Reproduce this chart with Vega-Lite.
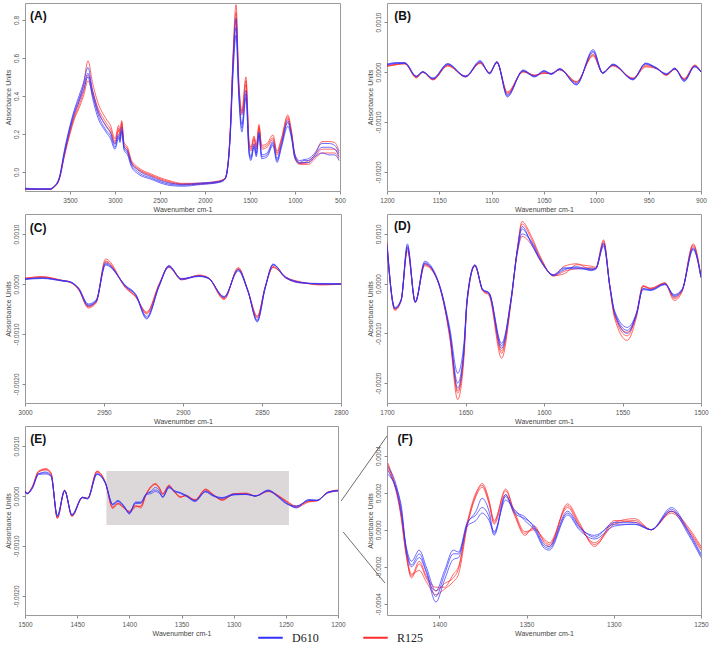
{
"$schema": "https://vega.github.io/schema/vega-lite/v6.json",
"padding": {"left": 3, "top": 2, "right": 5, "bottom": 2},
"bounds": "flush",
"columns": 2,
"spacing": {"row": 23, "column": 46},
"config": {
 "view": {"stroke": "#9a9a9a", "strokeWidth": 1},
 "axis": {"domain": false, "grid": false, "tickColor": "#8a8a8a", "tickSize": 3, "labelFont": "Liberation Sans", "labelFontSize": 6.5, "labelColor": "#555555", "titleFont": "Liberation Sans", "titleFontSize": 7, "titleFontWeight": "normal", "titleColor": "#444444", "labelPadding": 3, "titlePadding": 2, "labelOverlap": false, "labelFlush": false},
 "axisY": {"labelAngle": -90, "labelAlign": "center", "labelBaseline": "bottom"},
 "legend": {"orient": "none", "legendX": 232, "legendY": 621, "direction": "horizontal", "symbolType": "stroke", "symbolSize": 600, "symbolStrokeWidth": 2, "symbolOpacity": 1, "labelFont": "Liberation Serif", "labelFontSize": 12, "labelColor": "#222222", "columnPadding": 40, "labelOffset": 8}
},
"datasets": {
 "A": [
  {"x":4000,"b1":-0.085,"b2":-0.088,"b3":-0.09,"r1":-0.09,"r2":-0.092,"r3":-0.09},
  {"x":3850,"b1":-0.088,"b2":-0.09,"b3":-0.091,"r1":-0.09,"r2":-0.092,"r3":-0.091},
  {"x":3720,"b1":-0.088,"b2":-0.09,"b3":-0.09,"r1":-0.09,"r2":-0.092,"r3":-0.09},
  {"x":3680,"b1":-0.075,"b2":-0.078,"b3":-0.08,"r1":-0.08,"r2":-0.082,"r3":-0.08},
  {"x":3620,"b1":-0.03,"b2":-0.033,"b3":-0.036,"r1":-0.037,"r2":-0.04,"r3":-0.038},
  {"x":3560,"b1":0.12,"b2":0.11,"b3":0.1,"r1":0.1,"r2":0.09,"r3":0.09},
  {"x":3500,"b1":0.245,"b2":0.235,"b3":0.225,"r1":0.22,"r2":0.21,"r3":0.2},
  {"x":3450,"b1":0.33,"b2":0.32,"b3":0.31,"r1":0.3,"r2":0.29,"r3":0.28},
  {"x":3400,"b1":0.4,"b2":0.385,"b3":0.37,"r1":0.37,"r2":0.35,"r3":0.335},
  {"x":3350,"b1":0.47,"b2":0.45,"b3":0.43,"r1":0.46,"r2":0.42,"r3":0.4},
  {"x":3300,"b1":0.55,"b2":0.52,"b3":0.5,"r1":0.585,"r2":0.51,"r3":0.48},
  {"x":3250,"b1":0.43,"b2":0.41,"b3":0.39,"r1":0.47,"r2":0.43,"r3":0.41},
  {"x":3200,"b1":0.34,"b2":0.32,"b3":0.3,"r1":0.38,"r2":0.35,"r3":0.33},
  {"x":3100,"b1":0.24,"b2":0.22,"b3":0.21,"r1":0.28,"r2":0.26,"r3":0.245},
  {"x":3050,"b1":0.205,"b2":0.19,"b3":0.175,"r1":0.245,"r2":0.225,"r3":0.21},
  {"x":3000,"b1":0.145,"b2":0.13,"b3":0.12,"r1":0.175,"r2":0.16,"r3":0.15},
  {"x":2960,"b1":0.2,"b2":0.19,"b3":0.18,"r1":0.245,"r2":0.23,"r3":0.22},
  {"x":2945,"b1":0.175,"b2":0.165,"b3":0.155,"r1":0.215,"r2":0.2,"r3":0.19},
  {"x":2925,"b1":0.235,"b2":0.22,"b3":0.21,"r1":0.27,"r2":0.26,"r3":0.25},
  {"x":2900,"b1":0.135,"b2":0.125,"b3":0.115,"r1":0.155,"r2":0.145,"r3":0.135},
  {"x":2860,"b1":0.11,"b2":0.1,"b3":0.09,"r1":0.13,"r2":0.12,"r3":0.11},
  {"x":2820,"b1":0.05,"b2":0.04,"b3":0.03,"r1":0.065,"r2":0.055,"r3":0.05},
  {"x":2750,"b1":0.012,"b2":0.002,"b3":-0.008,"r1":0.027,"r2":0.02,"r3":0.015},
  {"x":2600,"b1":-0.025,"b2":-0.032,"b3":-0.038,"r1":-0.01,"r2":-0.016,"r3":-0.02},
  {"x":2400,"b1":-0.058,"b2":-0.064,"b3":-0.07,"r1":-0.045,"r2":-0.05,"r3":-0.055},
  {"x":2250,"b1":-0.065,"b2":-0.07,"b3":-0.075,"r1":-0.06,"r2":-0.063,"r3":-0.066},
  {"x":2050,"b1":-0.058,"b2":-0.062,"b3":-0.066,"r1":-0.058,"r2":-0.061,"r3":-0.064},
  {"x":1850,"b1":-0.05,"b2":-0.053,"b3":-0.056,"r1":-0.047,"r2":-0.05,"r3":-0.053},
  {"x":1780,"b1":-0.035,"b2":-0.038,"b3":-0.04,"r1":-0.033,"r2":-0.036,"r3":-0.038},
  {"x":1745,"b1":0.04,"b2":0.035,"b3":0.03,"r1":0.045,"r2":0.04,"r3":0.035},
  {"x":1720,"b1":0.2,"b2":0.19,"b3":0.18,"r1":0.22,"r2":0.21,"r3":0.2},
  {"x":1690,"b1":0.56,"b2":0.53,"b3":0.5,"r1":0.6,"r2":0.58,"r3":0.56},
  {"x":1655,"b1":0.81,"b2":0.76,"b3":0.72,"r1":0.88,"r2":0.84,"r3":0.8},
  {"x":1625,"b1":0.44,"b2":0.42,"b3":0.4,"r1":0.49,"r2":0.47,"r3":0.45},
  {"x":1590,"b1":0.25,"b2":0.23,"b3":0.21,"r1":0.32,"r2":0.31,"r3":0.3},
  {"x":1545,"b1":0.43,"b2":0.41,"b3":0.39,"r1":0.5,"r2":0.48,"r3":0.46},
  {"x":1510,"b1":0.12,"b2":0.1,"b3":0.09,"r1":0.16,"r2":0.15,"r3":0.14},
  {"x":1490,"b1":0.08,"b2":0.07,"b3":0.06,"r1":0.13,"r2":0.12,"r3":0.11},
  {"x":1455,"b1":0.15,"b2":0.14,"b3":0.13,"r1":0.19,"r2":0.18,"r3":0.17},
  {"x":1430,"b1":0.1,"b2":0.09,"b3":0.08,"r1":0.14,"r2":0.13,"r3":0.12},
  {"x":1400,"b1":0.21,"b2":0.2,"b3":0.19,"r1":0.25,"r2":0.24,"r3":0.23},
  {"x":1370,"b1":0.09,"b2":0.08,"b3":0.07,"r1":0.14,"r2":0.13,"r3":0.12},
  {"x":1310,"b1":0.1,"b2":0.09,"b3":0.08,"r1":0.15,"r2":0.14,"r3":0.13},
  {"x":1245,"b1":0.16,"b2":0.15,"b3":0.14,"r1":0.195,"r2":0.18,"r3":0.17},
  {"x":1200,"b1":0.07,"b2":0.06,"b3":0.05,"r1":0.11,"r2":0.1,"r3":0.09},
  {"x":1150,"b1":0.15,"b2":0.14,"b3":0.13,"r1":0.18,"r2":0.17,"r3":0.16},
  {"x":1080,"b1":0.27,"b2":0.26,"b3":0.24,"r1":0.3,"r2":0.29,"r3":0.28},
  {"x":1040,"b1":0.2,"b2":0.19,"b3":0.18,"r1":0.22,"r2":0.21,"r3":0.2},
  {"x":1000,"b1":0.09,"b2":0.08,"b3":0.07,"r1":0.09,"r2":0.08,"r3":0.07},
  {"x":950,"b1":0.06,"b2":0.05,"b3":0.045,"r1":0.05,"r2":0.045,"r3":0.04},
  {"x":900,"b1":0.065,"b2":0.06,"b3":0.05,"r1":0.05,"r2":0.045,"r3":0.04},
  {"x":850,"b1":0.07,"b2":0.06,"b3":0.05,"r1":0.06,"r2":0.05,"r3":0.04},
  {"x":780,"b1":0.1,"b2":0.09,"b3":0.08,"r1":0.09,"r2":0.08,"r3":0.07},
  {"x":700,"b1":0.15,"b2":0.13,"b3":0.1,"r1":0.16,"r2":0.12,"r3":0.1},
  {"x":620,"b1":0.15,"b2":0.13,"b3":0.09,"r1":0.16,"r2":0.12,"r3":0.1},
  {"x":560,"b1":0.14,"b2":0.12,"b3":0.09,"r1":0.155,"r2":0.12,"r3":0.1},
  {"x":510,"b1":0.1,"b2":0.08,"b3":0.06,"r1":0.11,"r2":0.09,"r3":0.07}
 ],
 "B": [
  {"x":1200,"b1":0.00016,"b2":0.00015,"b3":0.00014,"r1":0.00013,"r2":0.00012,"r3":0.00011},
  {"x":1190,"b1":0.00019,"b2":0.00018,"b3":0.00017,"r1":0.00016,"r2":0.00015,"r3":0.00015},
  {"x":1183,"b1":0.00019,"b2":0.00018,"b3":0.00017,"r1":0.00018,"r2":0.00017,"r3":0.00016},
  {"x":1172,"b1":-0.00008,"b2":-0.00009,"b3":-0.00009,"r1":-0.00011,"r2":-0.00012,"r3":-0.0001},
  {"x":1166,"b1":0.00001,"b2":0,"b3":0,"r1":0,"r2":-0.00001,"r3":0},
  {"x":1156,"b1":-0.00012,"b2":-0.00013,"b3":-0.00014,"r1":-0.00016,"r2":-0.00015,"r3":-0.00014},
  {"x":1142,"b1":0.00017,"b2":0.00016,"b3":0.00015,"r1":0.00014,"r2":0.00013,"r3":0.00012},
  {"x":1125,"b1":-0.00009,"b2":-0.0001,"b3":-0.00008,"r1":-0.0001,"r2":-0.00009,"r3":-0.00008},
  {"x":1111,"b1":0.00023,"b2":0.00021,"b3":0.0002,"r1":0.00019,"r2":0.00018,"r3":0.00017},
  {"x":1102,"b1":-0.00004,"b2":-0.00003,"b3":-0.00002,"r1":-0.00001,"r2":-0.00002,"r3":-0.00001},
  {"x":1095,"b1":0.00021,"b2":0.0002,"b3":0.00019,"r1":0.0002,"r2":0.00019,"r3":0.00018},
  {"x":1085,"b1":-0.0005,"b2":-0.00048,"b3":-0.00046,"r1":-0.00042,"r2":-0.0004,"r3":-0.00044},
  {"x":1070,"b1":0.00004,"b2":0.00003,"b3":0.00002,"r1":0.00002,"r2":0.00001,"r3":0},
  {"x":1059,"b1":-0.00009,"b2":-0.00008,"b3":-0.0001,"r1":-0.00006,"r2":-0.00007,"r3":-0.00008},
  {"x":1050,"b1":0.00003,"b2":0.00002,"b3":0.00001,"r1":-0.00003,"r2":-0.00002,"r3":-0.00001},
  {"x":1043,"b1":-0.00004,"b2":-0.00003,"b3":-0.00005,"r1":-0.00003,"r2":-0.00004,"r3":-0.00003},
  {"x":1035,"b1":0.00007,"b2":0.00006,"b3":0.00005,"r1":0.00005,"r2":0.00006,"r3":0.00004},
  {"x":1019,"b1":-0.00026,"b2":-0.00025,"b3":-0.00023,"r1":-0.0002,"r2":-0.00019,"r3":-0.00021},
  {"x":1003,"b1":0.00045,"b2":0.00042,"b3":0.0004,"r1":0.00034,"r2":0.00032,"r3":0.00036},
  {"x":994,"b1":-0.00002,"b2":-0.00001,"b3":-0.00003,"r1":-0.00002,"r2":-0.00001,"r3":-0.00002},
  {"x":984,"b1":0.00016,"b2":0.00015,"b3":0.00014,"r1":0.00013,"r2":0.00012,"r3":0.00014},
  {"x":965,"b1":-0.00016,"b2":-0.00015,"b3":-0.00014,"r1":-0.00013,"r2":-0.00014,"r3":-0.00012},
  {"x":953,"b1":0.00018,"b2":0.00017,"b3":0.00016,"r1":0.00012,"r2":0.0001,"r3":0.00014},
  {"x":943,"b1":0.00009,"b2":0.00008,"b3":0.00007,"r1":0.00008,"r2":0.00007,"r3":0.00009},
  {"x":933,"b1":-0.00004,"b2":-0.00005,"b3":-0.00003,"r1":-0.00007,"r2":-0.00006,"r3":-0.00005},
  {"x":925,"b1":0.00008,"b2":0.00007,"b3":0.00006,"r1":0.00006,"r2":0.00005,"r3":0.00007},
  {"x":916,"b1":-0.00019,"b2":-0.00018,"b3":-0.00016,"r1":-0.00014,"r2":-0.00015,"r3":-0.00013},
  {"x":906,"b1":0.00012,"b2":0.00011,"b3":0.0001,"r1":0.00014,"r2":0.00013,"r3":0.00012},
  {"x":900,"b1":0,"b2":0,"b3":0,"r1":0,"r2":0,"r3":0}
 ],
 "C": [
  {"x":3000,"b1":0.0001,"b2":0.0001,"b3":0.00009,"r1":0.00011,"r2":0.00012,"r3":0.0001},
  {"x":2989,"b1":0.00012,"b2":0.00012,"b3":0.00011,"r1":0.00015,"r2":0.00014,"r3":0.00013},
  {"x":2976,"b1":0.00007,"b2":0.00006,"b3":0.00006,"r1":0.00007,"r2":0.00006,"r3":0.00007},
  {"x":2972,"b1":0.00005,"b2":0.00004,"b3":0.00005,"r1":0.00005,"r2":0.00004,"r3":0.00004},
  {"x":2966,"b1":-0.00008,"b2":-0.00009,"b3":-0.0001,"r1":-0.00012,"r2":-0.00011,"r3":-0.0001},
  {"x":2960,"b1":-0.0004,"b2":-0.00042,"b3":-0.00044,"r1":-0.00046,"r2":-0.00044,"r3":-0.00048},
  {"x":2955,"b1":-0.00032,"b2":-0.00034,"b3":-0.00035,"r1":-0.00036,"r2":-0.00035,"r3":-0.00038},
  {"x":2949,"b1":0.0004,"b2":0.00042,"b3":0.00038,"r1":0.0005,"r2":0.00046,"r3":0.00044},
  {"x":2936,"b1":-0.00005,"b2":-0.00006,"b3":-0.00004,"r1":-0.00008,"r2":-0.00009,"r3":-0.00007},
  {"x":2930,"b1":-0.00021,"b2":-0.00022,"b3":-0.0002,"r1":-0.00025,"r2":-0.00026,"r3":-0.00024},
  {"x":2923,"b1":-0.00065,"b2":-0.0007,"b3":-0.00068,"r1":-0.00056,"r2":-0.00058,"r3":-0.0006},
  {"x":2915,"b1":-0.00003,"b2":-0.00002,"b3":-0.00004,"r1":0.00001,"r2":0,"r3":-0.00001},
  {"x":2909,"b1":0.00037,"b2":0.00036,"b3":0.00034,"r1":0.00035,"r2":0.00033,"r3":0.00036},
  {"x":2901,"b1":0.0001,"b2":0.00009,"b3":0.00011,"r1":0.00008,"r2":0.00009,"r3":0.0001},
  {"x":2890,"b1":0.00016,"b2":0.00015,"b3":0.00016,"r1":0.00018,"r2":0.00017,"r3":0.00016},
  {"x":2884,"b1":0.00012,"b2":0.00011,"b3":0.00012,"r1":0.00013,"r2":0.00012,"r3":0.00012},
  {"x":2874,"b1":-0.00026,"b2":-0.00025,"b3":-0.00027,"r1":-0.0003,"r2":-0.00031,"r3":-0.00028},
  {"x":2865,"b1":0.00028,"b2":0.00026,"b3":0.00029,"r1":0.00033,"r2":0.00031,"r3":0.0003},
  {"x":2859,"b1":-0.00013,"b2":-0.00014,"b3":-0.00012,"r1":-0.00012,"r2":-0.00013,"r3":-0.00014},
  {"x":2853,"b1":-0.00074,"b2":-0.00072,"b3":-0.00076,"r1":-0.00064,"r2":-0.00066,"r3":-0.00068},
  {"x":2848,"b1":-0.00008,"b2":-0.00007,"b3":-0.00009,"r1":-0.00006,"r2":-0.00007,"r3":-0.00005},
  {"x":2843,"b1":0.0004,"b2":0.00039,"b3":0.00038,"r1":0.00034,"r2":0.00033,"r3":0.00035},
  {"x":2835,"b1":0.00013,"b2":0.00012,"b3":0.00014,"r1":0.00013,"r2":0.00014,"r3":0.00012},
  {"x":2825,"b1":0.00003,"b2":0.00002,"b3":0.00003,"r1":0.00003,"r2":0.00004,"r3":0.00002},
  {"x":2812,"b1":0,"b2":0.00001,"b3":0,"r1":-0.00002,"r2":-0.00001,"r3":0},
  {"x":2800,"b1":0,"b2":0,"b3":0,"r1":0,"r2":0,"r3":0}
 ],
 "D": [
  {"x":1700,"b1":0.0008,"b2":0.00075,"b3":0.0007,"r1":0.00085,"r2":0.0008,"r3":0.00075},
  {"x":1695,"b1":-0.00048,"b2":-0.0005,"b3":-0.0005,"r1":-0.00052,"r2":-0.00054,"r3":-0.0005},
  {"x":1691,"b1":-0.00032,"b2":-0.00033,"b3":-0.00034,"r1":-0.00033,"r2":-0.00035,"r3":-0.00032},
  {"x":1687,"b1":0.0008,"b2":0.00076,"b3":0.00072,"r1":0.0007,"r2":0.00066,"r3":0.00074},
  {"x":1682,"b1":-0.00036,"b2":-0.00037,"b3":-0.00038,"r1":-0.00038,"r2":-0.00036,"r3":-0.00037},
  {"x":1676,"b1":0.00045,"b2":0.00042,"b3":0.0004,"r1":0.00038,"r2":0.00036,"r3":0.0004},
  {"x":1670,"b1":0.00025,"b2":0.00023,"b3":0.00022,"r1":0.00021,"r2":0.0002,"r3":0.00022},
  {"x":1666,"b1":-0.00008,"b2":-0.0001,"b3":-0.00011,"r1":-0.0001,"r2":-0.00012,"r3":-0.0001},
  {"x":1660,"b1":-0.0009,"b2":-0.00097,"b3":-0.001,"r1":-0.00105,"r2":-0.0011,"r3":-0.00102},
  {"x":1655,"b1":-0.0018,"b2":-0.002,"b3":-0.0021,"r1":-0.0022,"r2":-0.00233,"r3":-0.00215},
  {"x":1651,"b1":-0.0012,"b2":-0.0013,"b3":-0.00135,"r1":-0.0014,"r2":-0.0015,"r3":-0.0014},
  {"x":1649,"b1":-0.0003,"b2":-0.00033,"b3":-0.00035,"r1":-0.00036,"r2":-0.0004,"r3":-0.00035},
  {"x":1644,"b1":0.00038,"b2":0.00037,"b3":0.00036,"r1":0.00036,"r2":0.00035,"r3":0.00037},
  {"x":1639,"b1":-0.00012,"b2":-0.00013,"b3":-0.00012,"r1":-0.00014,"r2":-0.00015,"r3":-0.00013},
  {"x":1635,"b1":-0.00018,"b2":-0.0002,"b3":-0.00019,"r1":-0.00022,"r2":-0.00024,"r3":-0.0002},
  {"x":1627,"b1":-0.0012,"b2":-0.00125,"b3":-0.0013,"r1":-0.0014,"r2":-0.0015,"r3":-0.00135},
  {"x":1621,"b1":-0.0003,"b2":-0.00032,"b3":-0.00033,"r1":-0.00035,"r2":-0.00038,"r3":-0.00034},
  {"x":1617,"b1":0.00065,"b2":0.00066,"b3":0.00068,"r1":0.0007,"r2":0.00068,"r3":0.0006},
  {"x":1614,"b1":0.001,"b2":0.0011,"b3":0.00115,"r1":0.00125,"r2":0.0012,"r3":0.00095},
  {"x":1608,"b1":0.00085,"b2":0.00082,"b3":0.0008,"r1":0.00095,"r2":0.0009,"r3":0.00078},
  {"x":1602,"b1":0.00047,"b2":0.00046,"b3":0.00045,"r1":0.00052,"r2":0.0005,"r3":0.00044},
  {"x":1594,"b1":0.00017,"b2":0.00016,"b3":0.00018,"r1":0.00016,"r2":0.00015,"r3":0.00018},
  {"x":1587,"b1":0.00028,"b2":0.0003,"b3":0.00032,"r1":0.0002,"r2":0.00025,"r3":0.00035},
  {"x":1579,"b1":0.00034,"b2":0.0003,"b3":0.00032,"r1":0.00038,"r2":0.0003,"r3":0.0004},
  {"x":1570,"b1":0.00026,"b2":0.00028,"b3":0.0003,"r1":0.00035,"r2":0.00032,"r3":0.00028},
  {"x":1567,"b1":0.00029,"b2":0.0003,"b3":0.00031,"r1":0.00033,"r2":0.00031,"r3":0.0003},
  {"x":1562,"b1":0.0008,"b2":0.00075,"b3":0.00082,"r1":0.00088,"r2":0.00085,"r3":0.00078},
  {"x":1558,"b1":-0.00005,"b2":-0.00007,"b3":-0.00006,"r1":-0.00008,"r2":-0.0001,"r3":-0.00007},
  {"x":1555,"b1":-0.00055,"b2":-0.00058,"b3":-0.0006,"r1":-0.00065,"r2":-0.0007,"r3":-0.00062},
  {"x":1547,"b1":-0.00088,"b2":-0.00094,"b3":-0.001,"r1":-0.00105,"r2":-0.00114,"r3":-0.00098},
  {"x":1541,"b1":-0.00058,"b2":-0.0006,"b3":-0.00062,"r1":-0.0006,"r2":-0.00066,"r3":-0.00058},
  {"x":1537,"b1":-0.0001,"b2":-0.00012,"b3":-0.0001,"r1":-0.00004,"r2":-0.00006,"r3":-0.00005},
  {"x":1532,"b1":-0.00013,"b2":-0.00014,"b3":-0.00012,"r1":-0.0001,"r2":-0.00011,"r3":-0.00009},
  {"x":1523,"b1":-0.00001,"b2":-0.00002,"b3":0,"r1":0.00001,"r2":0,"r3":0.00002},
  {"x":1517,"b1":-0.00024,"b2":-0.00022,"b3":-0.00026,"r1":-0.0003,"r2":-0.00034,"r3":-0.00028},
  {"x":1512,"b1":-0.00012,"b2":-0.00011,"b3":-0.00013,"r1":-0.00014,"r2":-0.00016,"r3":-0.00013},
  {"x":1505,"b1":0.00068,"b2":0.0007,"b3":0.00072,"r1":0.00078,"r2":0.0008,"r3":0.00075},
  {"x":1500,"b1":0.00013,"b2":0.00012,"b3":0.00014,"r1":0.00013,"r2":0.00014,"r3":0.00012}
 ],
 "E": [
  {"x":1500,"b1":0.0001,"b2":0.00009,"b3":0.0001,"r1":0.0001,"r2":0.00011,"r3":0.0001},
  {"x":1498,"b1":0.00005,"b2":0.00004,"b3":0.00005,"r1":0.00005,"r2":0.00006,"r3":0.00005},
  {"x":1493,"b1":0.00016,"b2":0.00015,"b3":0.00016,"r1":0.00018,"r2":0.00019,"r3":0.00018},
  {"x":1487,"b1":0.00045,"b2":0.00043,"b3":0.00044,"r1":0.00049,"r2":0.0005,"r3":0.00048},
  {"x":1480,"b1":0.00046,"b2":0.00044,"b3":0.00048,"r1":0.00055,"r2":0.00053,"r3":0.00052},
  {"x":1475,"b1":0.0004,"b2":0.00039,"b3":0.00041,"r1":0.00046,"r2":0.00045,"r3":0.00044},
  {"x":1469,"b1":-0.0004,"b2":-0.00039,"b3":-0.00041,"r1":-0.00045,"r2":-0.00044,"r3":-0.00043},
  {"x":1462,"b1":0.00011,"b2":0.0001,"b3":0.00011,"r1":0.00011,"r2":0.00012,"r3":0.0001},
  {"x":1455,"b1":-0.00038,"b2":-0.00037,"b3":-0.00039,"r1":-0.0004,"r2":-0.00041,"r3":-0.00039},
  {"x":1445,"b1":-0.00003,"b2":-0.00002,"b3":-0.00003,"r1":-0.00003,"r2":-0.00004,"r3":-0.00003},
  {"x":1440,"b1":-0.00005,"b2":-0.00005,"b3":-0.00006,"r1":-0.00005,"r2":-0.00004,"r3":-0.00005},
  {"x":1431,"b1":0.00044,"b2":0.00045,"b3":0.00043,"r1":0.0005,"r2":0.00048,"r3":0.00049},
  {"x":1423,"b1":0.00026,"b2":0.00025,"b3":0.00027,"r1":0.00027,"r2":0.00028,"r3":0.00026},
  {"x":1416,"b1":-0.00016,"b2":-0.00017,"b3":-0.00018,"r1":-0.00025,"r2":-0.00023,"r3":-0.00022},
  {"x":1411,"b1":-0.00009,"b2":-0.0001,"b3":-0.00011,"r1":-0.00016,"r2":-0.00015,"r3":-0.00014},
  {"x":1405,"b1":-0.0002,"b2":-0.00021,"b3":-0.00022,"r1":-0.00024,"r2":-0.00023,"r3":-0.00025},
  {"x":1400,"b1":-0.00035,"b2":-0.00036,"b3":-0.00033,"r1":-0.00032,"r2":-0.00033,"r3":-0.0003},
  {"x":1394,"b1":-0.00012,"b2":-0.00013,"b3":-0.00015,"r1":-0.0002,"r2":-0.00022,"r3":-0.00019},
  {"x":1389,"b1":-0.00013,"b2":-0.00012,"b3":-0.00015,"r1":-0.00021,"r2":-0.0002,"r3":-0.00024},
  {"x":1384,"b1":0.00003,"b2":0.00004,"b3":0.00002,"r1":0.00003,"r2":0.00004,"r3":0.00002},
  {"x":1379,"b1":0.0001,"b2":0.00008,"b3":0.00005,"r1":0.00019,"r2":0.0002,"r3":0.00018},
  {"x":1375,"b1":0.00017,"b2":0.00012,"b3":0.00009,"r1":0.00025,"r2":0.00024,"r3":0.00023},
  {"x":1371,"b1":0.0001,"b2":0.00007,"b3":0.00005,"r1":0.00016,"r2":0.00015,"r3":0.00014},
  {"x":1368,"b1":-0.00002,"b2":-0.00003,"b3":-0.00001,"r1":0.00004,"r2":0.00005,"r3":0.00003},
  {"x":1362,"b1":0.00019,"b2":0.00018,"b3":0.00016,"r1":0.00022,"r2":0.00021,"r3":0.00019},
  {"x":1357,"b1":0.0001,"b2":0.00009,"b3":0.00011,"r1":0.00009,"r2":0.0001,"r3":0.00008},
  {"x":1351,"b1":0.00007,"b2":0.00006,"b3":0.00005,"r1":-0.00002,"r2":-0.00001,"r3":-0.00003},
  {"x":1346,"b1":0.00001,"b2":0.00002,"b3":0,"r1":0.00001,"r2":0,"r3":0.00002},
  {"x":1337,"b1":-0.0001,"b2":-0.00009,"b3":-0.00011,"r1":-0.00008,"r2":-0.00007,"r3":-0.00009},
  {"x":1327,"b1":0.00009,"b2":0.0001,"b3":0.00008,"r1":0.00013,"r2":0.00012,"r3":0.00014},
  {"x":1320,"b1":0.00001,"b2":0.00002,"b3":0,"r1":0.00003,"r2":0.00002,"r3":0.00004},
  {"x":1311,"b1":-0.00003,"b2":-0.00004,"b3":-0.00005,"r1":-0.00008,"r2":-0.00007,"r3":-0.00009},
  {"x":1300,"b1":0.00003,"b2":0.00004,"b3":0.00002,"r1":0.00003,"r2":0.00004,"r3":0.00005},
  {"x":1288,"b1":0.00003,"b2":0.00004,"b3":0.00003,"r1":0.00005,"r2":0.00006,"r3":0.00004},
  {"x":1279,"b1":0,"b2":0,"b3":0,"r1":0,"r2":0,"r3":0},
  {"x":1267,"b1":0.00011,"b2":0.00012,"b3":0.0001,"r1":0.0001,"r2":0.0001,"r3":0.00009},
  {"x":1257,"b1":-0.00002,"b2":-0.00001,"b3":-0.00003,"r1":0,"r2":0.00001,"r3":-0.00001},
  {"x":1250,"b1":-0.00014,"b2":-0.00013,"b3":-0.00015,"r1":-0.0001,"r2":-0.00009,"r3":-0.00011},
  {"x":1240,"b1":-0.00022,"b2":-0.00024,"b3":-0.0002,"r1":-0.00021,"r2":-0.0002,"r3":-0.00023},
  {"x":1228,"b1":-0.00008,"b2":-0.00007,"b3":-0.00009,"r1":-0.0001,"r2":-0.00011,"r3":-0.00012},
  {"x":1220,"b1":-0.00009,"b2":-0.00008,"b3":-0.00009,"r1":-0.00009,"r2":-0.0001,"r3":-0.00009},
  {"x":1210,"b1":0.00007,"b2":0.00006,"b3":0.00007,"r1":0.00007,"r2":0.00008,"r3":0.00006},
  {"x":1200,"b1":0.00011,"b2":0.0001,"b3":0.00011,"r1":0.00011,"r2":0.00012,"r3":0.0001}
 ],
 "F": [
  {"x":1429.5,"b1":0.00034,"b2":0.00032,"b3":0.0003,"r1":0.00036,"r2":0.00035,"r3":0.00033},
  {"x":1422,"b1":0.00012,"b2":0.0001,"b3":0.00014,"r1":0.000085,"r2":0.00007,"r3":0.00009},
  {"x":1419,"b1":-0.0001,"b2":-0.00009,"b3":-0.00011,"r1":-0.00013,"r2":-0.00014,"r3":-0.00012},
  {"x":1416,"b1":-0.00019,"b2":-0.00017,"b3":-0.0002,"r1":-0.00026,"r2":-0.00025,"r3":-0.00024},
  {"x":1411.5,"b1":-0.00013,"b2":-0.00011,"b3":-0.00015,"r1":-0.000185,"r2":-0.00017,"r3":-0.00022},
  {"x":1407.5,"b1":-0.00022,"b2":-0.0002,"b3":-0.00023,"r1":-0.00026,"r2":-0.00025,"r3":-0.00028},
  {"x":1402,"b1":-0.00036,"b2":-0.00033,"b3":-0.00039,"r1":-0.00033,"r2":-0.00031,"r3":-0.00035},
  {"x":1397,"b1":-0.00024,"b2":-0.00022,"b3":-0.00027,"r1":-0.00029,"r2":-0.00031,"r3":-0.00032},
  {"x":1392,"b1":-0.00013,"b2":-0.00011,"b3":-0.00016,"r1":-0.00026,"r2":-0.00024,"r3":-0.00028},
  {"x":1389,"b1":-0.00013,"b2":-0.00012,"b3":-0.00015,"r1":-0.00021,"r2":-0.0002,"r3":-0.00024},
  {"x":1384,"b1":0.00003,"b2":0.00004,"b3":0.00002,"r1":0.00003,"r2":0.00004,"r3":0.00002},
  {"x":1379,"b1":0.0001,"b2":0.00008,"b3":0.00005,"r1":0.00019,"r2":0.0002,"r3":0.00018},
  {"x":1375.5,"b1":0.00017,"b2":0.00012,"b3":0.00009,"r1":0.00025,"r2":0.00024,"r3":0.00023},
  {"x":1371.5,"b1":0.0001,"b2":0.00007,"b3":0.00005,"r1":0.00016,"r2":0.00015,"r3":0.00014},
  {"x":1368.6,"b1":-0.00002,"b2":-0.00003,"b3":-0.00001,"r1":0.00004,"r2":0.00005,"r3":0.00003},
  {"x":1362,"b1":0.00019,"b2":0.00018,"b3":0.00016,"r1":0.00022,"r2":0.00021,"r3":0.00019},
  {"x":1357,"b1":0.0001,"b2":0.00009,"b3":0.00011,"r1":0.00009,"r2":0.0001,"r3":0.00008},
  {"x":1351,"b1":0.00007,"b2":0.00006,"b3":0.00005,"r1":-0.00002,"r2":-0.00001,"r3":-0.00003},
  {"x":1345.6,"b1":0.00001,"b2":0.00002,"b3":0,"r1":0.00001,"r2":0,"r3":0.00002},
  {"x":1339.8,"b1":-0.00009,"b2":-0.00008,"b3":-0.0001,"r1":-0.00006,"r2":-0.00005,"r3":-0.00007},
  {"x":1337,"b1":-0.0001,"b2":-0.00009,"b3":-0.00011,"r1":-0.00008,"r2":-0.00007,"r3":-0.00009},
  {"x":1326.5,"b1":0.00009,"b2":0.0001,"b3":0.00008,"r1":0.00013,"r2":0.00012,"r3":0.00014},
  {"x":1319.8,"b1":0.00001,"b2":0.00002,"b3":0,"r1":0.00003,"r2":0.00002,"r3":0.00004},
  {"x":1311,"b1":-0.00003,"b2":-0.00004,"b3":-0.00005,"r1":-0.00008,"r2":-0.00007,"r3":-0.00009},
  {"x":1299.6,"b1":0.00003,"b2":0.00004,"b3":0.00002,"r1":0.00003,"r2":0.00004,"r3":0.00005},
  {"x":1288,"b1":0.00003,"b2":0.00004,"b3":0.00003,"r1":0.00005,"r2":0.00006,"r3":0.00004},
  {"x":1278.5,"b1":0,"b2":0,"b3":0,"r1":0,"r2":0,"r3":0},
  {"x":1267,"b1":0.00011,"b2":0.00012,"b3":0.0001,"r1":0.0001,"r2":0.0001,"r3":0.00009},
  {"x":1257,"b1":-0.00002,"b2":-0.00001,"b3":-0.00003,"r1":0,"r2":0.00001,"r3":-0.00001},
  {"x":1250,"b1":-0.00014,"b2":-0.00013,"b3":-0.00015,"r1":-0.0001,"r2":-0.00009,"r3":-0.00011}
 ]
},
"concat": [
  {"width": 315, "height": 188, "data": {"name": "A"},
   "layer": [
    {"transform": [{"fold": ["r1","r2","r3","b1","b2","b3"], "as": ["s","y"]}],
     "mark": {"type": "line", "interpolate": "monotone", "strokeWidth": 1, "opacity": 0.7, "clip": true},
     "encoding": {
      "x": {"field": "x", "type": "quantitative", "scale": {"domain": [500, 4000], "reverse": true, "nice": false, "zero": false}, "axis": {"values": [3500,3000,2500,2000,1500,1000,500], "format": "d", "title": "Wavenumber cm-1"}},
      "y": {"field": "y", "type": "quantitative", "scale": {"domain": [-0.1, 0.889], "nice": false, "zero": false}, "axis": {"values": [0,0.2,0.4,0.6,0.8], "format": ".1f", "title": "Absorbance Units"}},
      "color": {"field": "s", "type": "nominal", "scale": {"domain": ["b1","b2","b3","r1","r2","r3"], "range": ["#3030ff","#3030ff","#3030ff","#ff2a2a","#ff2a2a","#ff2a2a"]}, "legend": {"title": null, "values": ["b1","r1"], "labelExpr": "datum.value == 'b1' ? 'D610' : 'R125'"}}
     }},
    {"data": {"values": [{"x": 3944, "y": 0.82, "t": "(A)"}]},
     "mark": {"type": "text", "align": "left", "baseline": "middle", "fontWeight": "bold", "fontSize": 12, "font": "Liberation Sans", "color": "#111111"},
     "encoding": {"x": {"field": "x", "type": "quantitative"}, "y": {"field": "y", "type": "quantitative"}, "text": {"field": "t"}}}
   ]},
  {"width": 314, "height": 188, "data": {"name": "B"},
   "layer": [
    {"transform": [{"fold": ["r1","r2","r3","b1","b2","b3"], "as": ["s","y"]}],
     "mark": {"type": "line", "interpolate": "monotone", "strokeWidth": 1, "opacity": 0.7, "clip": true},
     "encoding": {
      "x": {"field": "x", "type": "quantitative", "scale": {"domain": [900, 1200], "reverse": true, "nice": false, "zero": false}, "axis": {"values": [1200,1150,1100,1050,1000,950,900], "format": "d", "title": "Wavenumber cm-1"}},
      "y": {"field": "y", "type": "quantitative", "scale": {"domain": [-0.00238, 0.00138], "nice": false, "zero": false}, "axis": {"values": [-0.002,-0.0015,-0.001,-0.0005,0,0.0005,0.001], "labelExpr": "abs(datum.value + 0.0005) < 1e-9 || abs(datum.value + 0.0015) < 1e-9 ? '' : replace(format(datum.value, '.4f'), '\u2212', '-')", "title": "Absorbance Units"}},
      "color": {"field": "s", "type": "nominal", "scale": {"domain": ["b1","b2","b3","r1","r2","r3"], "range": ["#3030ff","#3030ff","#3030ff","#ff2a2a","#ff2a2a","#ff2a2a"]}, "legend": {"title": null, "values": ["b1","r1"], "labelExpr": "datum.value == 'b1' ? 'D610' : 'R125'"}}
     }},
    {"data": {"values": [{"x": 1193, "y": 0.00112, "t": "(B)"}]},
     "mark": {"type": "text", "align": "left", "baseline": "middle", "fontWeight": "bold", "fontSize": 12, "font": "Liberation Sans", "color": "#111111"},
     "encoding": {"x": {"field": "x", "type": "quantitative"}, "y": {"field": "y", "type": "quantitative"}, "text": {"field": "t"}}}
   ]},
  {"width": 316, "height": 189, "data": {"name": "C"},
   "layer": [
    {"transform": [{"fold": ["r1","r2","r3","b1","b2","b3"], "as": ["s","y"]}],
     "mark": {"type": "line", "interpolate": "monotone", "strokeWidth": 1, "opacity": 0.7, "clip": true},
     "encoding": {
      "x": {"field": "x", "type": "quantitative", "scale": {"domain": [2800, 3000], "reverse": true, "nice": false, "zero": false}, "axis": {"values": [3000,2950,2900,2850,2800], "format": "d", "title": "Wavenumber cm-1"}},
      "y": {"field": "y", "type": "quantitative", "scale": {"domain": [-0.00238, 0.0014], "nice": false, "zero": false}, "axis": {"values": [-0.002,-0.0015,-0.001,-0.0005,0,0.0005,0.001], "labelExpr": "abs(datum.value + 0.0005) < 1e-9 || abs(datum.value + 0.0015) < 1e-9 ? '' : replace(format(datum.value, '.4f'), '\u2212', '-')", "title": "Absorbance Units"}},
      "color": {"field": "s", "type": "nominal", "scale": {"domain": ["b1","b2","b3","r1","r2","r3"], "range": ["#3030ff","#3030ff","#3030ff","#ff2a2a","#ff2a2a","#ff2a2a"]}, "legend": {"title": null, "values": ["b1","r1"], "labelExpr": "datum.value == 'b1' ? 'D610' : 'R125'"}}
     }},
    {"data": {"values": [{"x": 2997, "y": 0.00112, "t": "(C)"}]},
     "mark": {"type": "text", "align": "left", "baseline": "middle", "fontWeight": "bold", "fontSize": 12, "font": "Liberation Sans", "color": "#111111"},
     "encoding": {"x": {"field": "x", "type": "quantitative"}, "y": {"field": "y", "type": "quantitative"}, "text": {"field": "t"}}}
   ]},
  {"width": 314, "height": 189, "data": {"name": "D"},
   "layer": [
    {"transform": [{"fold": ["r1","r2","r3","b1","b2","b3"], "as": ["s","y"]}],
     "mark": {"type": "line", "interpolate": "monotone", "strokeWidth": 1, "opacity": 0.7, "clip": true},
     "encoding": {
      "x": {"field": "x", "type": "quantitative", "scale": {"domain": [1500, 1700], "reverse": true, "nice": false, "zero": false}, "axis": {"values": [1700,1650,1600,1550,1500], "format": "d", "title": "Wavenumber cm-1"}},
      "y": {"field": "y", "type": "quantitative", "scale": {"domain": [-0.0024, 0.0014], "nice": false, "zero": false}, "axis": {"values": [-0.002,-0.0015,-0.001,-0.0005,0,0.0005,0.001], "labelExpr": "abs(datum.value + 0.0005) < 1e-9 || abs(datum.value + 0.0015) < 1e-9 ? '' : replace(format(datum.value, '.4f'), '\u2212', '-')", "title": "Absorbance Units"}},
      "color": {"field": "s", "type": "nominal", "scale": {"domain": ["b1","b2","b3","r1","r2","r3"], "range": ["#3030ff","#3030ff","#3030ff","#ff2a2a","#ff2a2a","#ff2a2a"]}, "legend": {"title": null, "values": ["b1","r1"], "labelExpr": "datum.value == 'b1' ? 'D610' : 'R125'"}}
     }},
    {"data": {"values": [{"x": 1695.5, "y": 0.00116, "t": "(D)"}]},
     "mark": {"type": "text", "align": "left", "baseline": "middle", "fontWeight": "bold", "fontSize": 12, "font": "Liberation Sans", "color": "#111111"},
     "encoding": {"x": {"field": "x", "type": "quantitative"}, "y": {"field": "y", "type": "quantitative"}, "text": {"field": "t"}}}
   ]},
  {"width": 313, "height": 189, "data": {"name": "E"},
   "layer": [
    {"data": {"values": [{"x": 1422, "xe": 1247, "y": 0.0005, "ye": -0.00058}]},
     "mark": {"type": "rect", "color": "#dcd8d9"},
     "encoding": {"x": {"field": "x", "type": "quantitative"}, "x2": {"field": "xe"}, "y": {"field": "y", "type": "quantitative"}, "y2": {"field": "ye"}}},
    {"transform": [{"fold": ["r1","r2","r3","b1","b2","b3"], "as": ["s","y"]}],
     "mark": {"type": "line", "interpolate": "monotone", "strokeWidth": 1, "opacity": 0.7, "clip": true},
     "encoding": {
      "x": {"field": "x", "type": "quantitative", "scale": {"domain": [1200, 1500], "reverse": true, "nice": false, "zero": false}, "axis": {"values": [1500,1450,1400,1350,1300,1250,1200], "format": "d", "title": "Wavenumber cm-1"}},
      "y": {"field": "y", "type": "quantitative", "scale": {"domain": [-0.00238, 0.0014], "nice": false, "zero": false}, "axis": {"values": [-0.002,-0.0015,-0.001,-0.0005,0,0.0005,0.001], "labelExpr": "abs(datum.value + 0.0005) < 1e-9 || abs(datum.value + 0.0015) < 1e-9 ? '' : replace(format(datum.value, '.4f'), '\u2212', '-')", "title": "Absorbance Units"}},
      "color": {"field": "s", "type": "nominal", "scale": {"domain": ["b1","b2","b3","r1","r2","r3"], "range": ["#3030ff","#3030ff","#3030ff","#ff2a2a","#ff2a2a","#ff2a2a"]}, "legend": {"title": null, "values": ["b1","r1"], "labelExpr": "datum.value == 'b1' ? 'D610' : 'R125'"}}
     }},
    {"data": {"values": [{"x": 1197, "xe": 1153, "y": -0.0001, "ye": 0.0012}, {"x": 1195, "xe": 1155, "y": -0.00072, "ye": -0.00174}]},
     "mark": {"type": "rule", "color": "#6e6e6e", "strokeWidth": 1, "clip": false},
     "encoding": {"x": {"field": "x", "type": "quantitative"}, "x2": {"field": "xe"}, "y": {"field": "y", "type": "quantitative"}, "y2": {"field": "ye"}}},
    {"data": {"values": [{"x": 1495, "y": 0.00114, "t": "(E)"}]},
     "mark": {"type": "text", "align": "left", "baseline": "middle", "fontWeight": "bold", "fontSize": 12, "font": "Liberation Sans", "color": "#111111"},
     "encoding": {"x": {"field": "x", "type": "quantitative"}, "y": {"field": "y", "type": "quantitative"}, "text": {"field": "t"}}}
   ]},
  {"width": 314, "height": 189, "data": {"name": "F"},
   "layer": [
    {"transform": [{"fold": ["r1","r2","r3","b1","b2","b3"], "as": ["s","y"]}],
     "mark": {"type": "line", "interpolate": "monotone", "strokeWidth": 1, "opacity": 0.7, "clip": true},
     "encoding": {
      "x": {"field": "x", "type": "quantitative", "scale": {"domain": [1250, 1430], "reverse": true, "nice": false, "zero": false}, "axis": {"values": [1400,1350,1300,1250], "format": "d", "title": "Wavenumber cm-1"}},
      "y": {"field": "y", "type": "quantitative", "scale": {"domain": [-0.00046, 0.00056], "nice": false, "zero": false}, "axis": {"values": [-0.0004,-0.0002,0,0.0002,0.0004], "labelExpr": "replace(format(datum.value, '.4f'), '\u2212', '-')", "title": "Absorbance Units"}},
      "color": {"field": "s", "type": "nominal", "scale": {"domain": ["b1","b2","b3","r1","r2","r3"], "range": ["#3030ff","#3030ff","#3030ff","#ff2a2a","#ff2a2a","#ff2a2a"]}, "legend": {"title": null, "values": ["b1","r1"], "labelExpr": "datum.value == 'b1' ? 'D610' : 'R125'"}}
     }},
    {"data": {"values": [{"x": 1424, "y": 0.00049, "t": "(F)"}]},
     "mark": {"type": "text", "align": "left", "baseline": "middle", "fontWeight": "bold", "fontSize": 12, "font": "Liberation Sans", "color": "#111111"},
     "encoding": {"x": {"field": "x", "type": "quantitative"}, "y": {"field": "y", "type": "quantitative"}, "text": {"field": "t"}}}
   ]}
]
}
